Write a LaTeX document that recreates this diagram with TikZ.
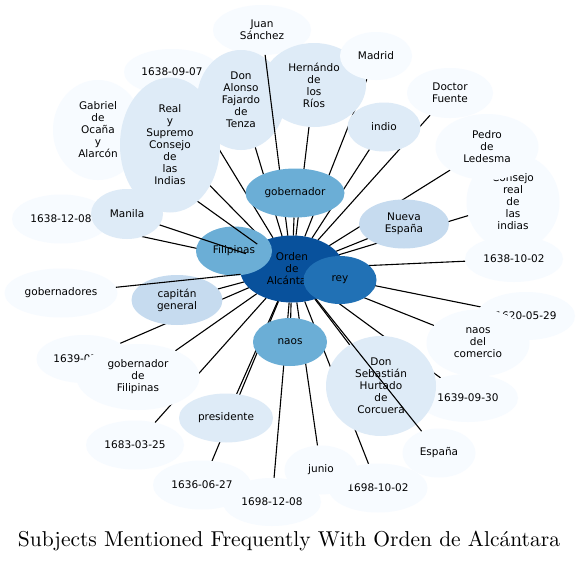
\documentclass[tikz,border=0pt]{standalone}
\usepackage{fontspec}
\usepackage{graphicx}
\usetikzlibrary{shapes.geometric}
\newfontfamily\dvs{DejaVu Sans}
\definecolor{bA}{HTML}{F7FBFF}
\definecolor{bB}{HTML}{DEEBF7}
\definecolor{bC}{HTML}{C6DBEF}
\definecolor{bD}{HTML}{6BAED6}
\definecolor{bE}{HTML}{2171B5}
\definecolor{bF}{HTML}{08519C}
\pgfdeclarelayer{bgl}
\pgfdeclarelayer{edgesback}
\pgfdeclarelayer{edgesmid}
\pgfdeclarelayer{nodestop}
\pgfsetlayers{bgl,edgesback,main,edgesmid,nodestop}
\tikzset{
  bub/.style={ellipse, inner sep=0pt, outer sep=0pt, align=center,
    font=\dvs\fontsize{10.5}{12}\selectfont, text=black},
  sz/.style 2 args={minimum width=#1pt, minimum height=#2pt},
  lvA/.style={bub, fill=bA},
  lvB/.style={bub, fill=bB},
  lvC/.style={bub, fill=bC},
  lvD/.style={bub, fill=bD},
  lvE/.style={bub, fill=bE},
  lvF/.style={bub, fill=bF},
  link/.style={draw=black, line width=1.1pt}
}
\begin{document}
\begin{tikzpicture}[x=1pt,y=-1pt]
\begin{pgfonlayer}{bgl}
\fill[white] (0,0) rectangle (579,563);
\end{pgfonlayer}
\useasboundingbox (0,0) rectangle (579,563);

% lower nodes
\node[lvA, sz={98}{50}] (juan) at (262,30) {Juan\\Sánchez};
\node[lvA, sz={96}{46}] (d0907) at (172,72) {1638-09-07};
\node[lvA, sz={90}{100}] (gabriel) at (98,130) {Gabriel\\de\\Ocaña\\y\\Alarcón};
\node[lvB, sz={88}{100}] (alonso) at (241,100) {Don\\Alonso\\Fajardo\\de\\Tenza};
\node[lvB, sz={104}{84}] (hernando) at (314,85) {Hernándo\\de\\los\\Ríos};
\node[lvA, sz={72}{48}] (madrid) at (376,56) {Madrid};
\node[lvA, sz={86}{50}] (fuente) at (450,93) {Doctor\\Fuente};
\node[lvA, sz={93}{97}] (consejo) at (513,202) {Consejo\\real\\de\\las\\indias};
\node[lvA, sz={103}{66}] (pedro) at (487,147) {Pedro\\de\\Ledesma};
\node[lvA, sz={98}{46}] (d1002) at (514,259) {1638-10-02};
\node[lvA, sz={98}{49}] (d1208) at (61,219) {1638-12-08};
\node[lvA, sz={113}{49}] (gobres) at (61,293) {gobernadores};
\node[lvC, sz={91}{50}] (capitan) at (177,300) {capitán\\general};
\node[lvA, sz={95}{48}] (d0x) at (84,359) {1639-07-01};
\node[lvA, sz={123}{66}] (gobfil) at (138,377) {gobernador\\de\\Filipinas};
\node[lvA, sz={98}{49}] (d1683) at (135,445) {1683-03-25};
\node[lvA, sz={98}{49}] (d1636) at (202,485) {1636-06-27};
\node[lvA, sz={99}{49}] (d981002) at (378,488) {1698-10-02};
\node[lvA, sz={73}{49}] (junio) at (321,470) {junio};
\node[lvA, sz={98}{48}] (d981208) at (272,502) {1698-12-08};
\node[lvA, sz={98}{48}] (d0529) at (526,316) {1620-05-29};
\node[lvA, sz={103}{67}] (naosdc) at (478,343) {naos\\del\\comercio};
\node[lvA, sz={100}{48}] (d0930) at (468,398) {1639-09-30};
\node[lvB, sz={110}{100}] (sebastian) at (381,386) {Don\\Sebastián\\Hurtado\\de\\Corcuera};
\node[lvF, sz={104}{67}] (orden) at (292,269) {Orden\\de\\Alcántara};
\node[lvD, sz={76}{49}] (filipinas) at (234,251) {Filipinas};

% upper nodes
\begin{pgfonlayer}{nodestop}
\node[lvB, sz={100}{135}] (real) at (170,145) {Real\\y\\Supremo\\Consejo\\de\\las\\Indias};
\node[lvB, sz={72}{50}] (manila) at (127,214) {Manila};
\node[lvD, sz={99}{49}] (gobernador) at (295,193) {gobernador};
\node[lvB, sz={73}{49}] (indio) at (384,127) {indio};
\node[lvC, sz={90}{49}] (nueva) at (404,224) {Nueva\\España};
\node[lvE, sz={73}{48}] (rey) at (340,280) {rey};
\node[lvD, sz={74}{48}] (naos) at (290,342) {naos};
\node[lvB, sz={94}{49}] (presidente) at (226,418) {presidente};
\node[lvA, sz={73}{49}] (espana) at (439,453) {España};
\end{pgfonlayer}

% edges behind nodes
\begin{pgfonlayer}{edgesback}
\foreach \n in {d0907,real,alonso,hernando,madrid,fuente,indio,pedro,consejo,
  gobernador,nueva,d1002,rey,d0529,naosdc,d0930,sebastian,d981002,junio,
  d981208,d1636,presidente,d1683,gobfil,d0x,capitan,d1208,filipinas,naos}
  {\draw[link] (\n) -- (orden);}
\end{pgfonlayer}

% edges drawn over some nodes
\begin{pgfonlayer}{edgesmid}
\foreach \n in {manila,gabriel,juan,espana,gobres}
  {\draw[link] (\n) -- (orden);}
\end{pgfonlayer}

\node[font=\rmfamily, inner sep=0pt] (title) at (289,541)
  {\resizebox{542pt}{!}{Subjects Mentioned Frequently With Orden de Alcántara}};
\end{tikzpicture}
\end{document}
